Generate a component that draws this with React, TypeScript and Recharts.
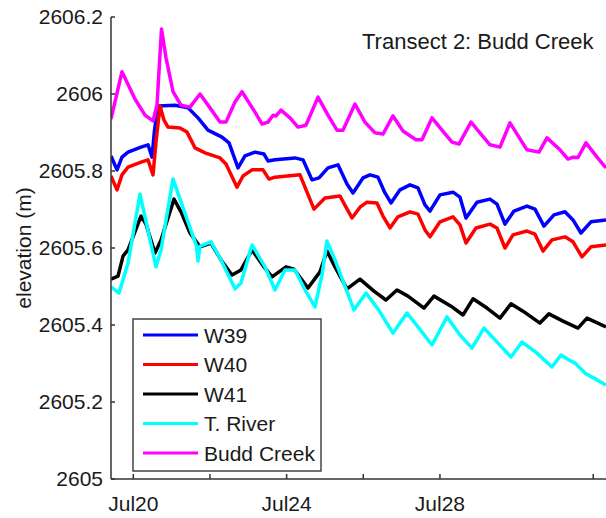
import React from 'react';
import { LineChart, Line, XAxis, YAxis, Legend } from 'recharts';

// x = days since Jul 20 00:00, y = elevation (m)
const dayTicks = [0, 2, 4, 6, 8, 12];
const dayLabels: Record<number, string> = { 0: 'Jul20', 4: 'Jul24', 8: 'Jul28' };
const elevTicks = [2605, 2605.2, 2605.4, 2605.6, 2605.8, 2606, 2606.2];

const w39: [number, number][] = [
  [-0.582, 2605.839], [-0.425, 2605.803], [-0.295, 2605.836], [-0.138, 2605.849], [0.201, 2605.862],
  [0.384, 2605.868], [0.488, 2605.836], [0.553, 2605.906], [0.644, 2605.969], [1.088, 2605.971],
  [1.427, 2605.964], [1.688, 2605.938], [1.949, 2605.906], [2.314, 2605.888], [2.497, 2605.873],
  [2.732, 2605.808], [2.914, 2605.839], [3.175, 2605.849], [3.41, 2605.844], [3.514, 2605.826],
  [3.697, 2605.829], [4.219, 2605.834], [4.427, 2605.829], [4.662, 2605.777], [4.845, 2605.782],
  [5.079, 2605.808], [5.34, 2605.816], [5.575, 2605.766], [5.731, 2605.743], [5.992, 2605.782],
  [6.175, 2605.79], [6.383, 2605.784], [6.566, 2605.743], [6.723, 2605.717], [6.958, 2605.751],
  [7.219, 2605.764], [7.427, 2605.756], [7.61, 2605.712], [7.741, 2605.696], [8.002, 2605.738],
  [8.341, 2605.745], [8.523, 2605.732], [8.68, 2605.678], [8.967, 2605.719], [9.306, 2605.727],
  [9.489, 2605.714], [9.697, 2605.662], [9.932, 2605.696], [10.271, 2605.709], [10.48, 2605.701],
  [10.715, 2605.657], [10.976, 2605.686], [11.263, 2605.694], [11.472, 2605.673], [11.68, 2605.639],
  [11.941, 2605.668], [12.333, 2605.673],
];

const w40: [number, number][] = [
  [-0.582, 2605.787], [-0.425, 2605.751], [-0.295, 2605.79], [-0.138, 2605.81], [0.201, 2605.823],
  [0.384, 2605.829], [0.514, 2605.79], [0.592, 2605.875], [0.697, 2605.969], [0.801, 2605.932],
  [0.905, 2605.914], [1.218, 2605.912], [1.401, 2605.901], [1.61, 2605.86], [1.871, 2605.847],
  [2.262, 2605.834], [2.418, 2605.818], [2.705, 2605.758], [2.862, 2605.787], [3.097, 2605.803],
  [3.384, 2605.803], [3.54, 2605.779], [3.697, 2605.784], [4.349, 2605.79], [4.532, 2605.745],
  [4.714, 2605.701], [5.001, 2605.73], [5.392, 2605.735], [5.549, 2605.706], [5.705, 2605.678],
  [5.914, 2605.706], [6.096, 2605.719], [6.357, 2605.717], [6.514, 2605.683], [6.697, 2605.652],
  [6.905, 2605.681], [7.219, 2605.694], [7.427, 2605.688], [7.61, 2605.647], [7.741, 2605.629],
  [8.002, 2605.668], [8.341, 2605.681], [8.523, 2605.66], [8.68, 2605.613], [8.941, 2605.652],
  [9.306, 2605.662], [9.489, 2605.652], [9.697, 2605.6], [9.906, 2605.634], [10.271, 2605.644],
  [10.48, 2605.636], [10.689, 2605.592], [10.923, 2605.621], [11.263, 2605.629], [11.472, 2605.616],
  [11.706, 2605.577], [11.941, 2605.603], [12.333, 2605.608],
];

const w41: [number, number][] = [
  [-0.582, 2605.519], [-0.399, 2605.527], [-0.268, 2605.579], [-0.138, 2605.595], [0.201, 2605.683],
  [0.331, 2605.662], [0.566, 2605.587], [0.723, 2605.621], [1.062, 2605.727], [1.244, 2605.694],
  [1.479, 2605.639], [1.74, 2605.603], [2.027, 2605.613], [2.288, 2605.569], [2.575, 2605.53],
  [2.81, 2605.543], [3.097, 2605.595], [3.41, 2605.551], [3.619, 2605.525], [3.984, 2605.551],
  [4.193, 2605.545], [4.558, 2605.496], [4.871, 2605.538], [5.053, 2605.592], [5.262, 2605.551],
  [5.575, 2605.494], [5.914, 2605.519], [6.279, 2605.488], [6.592, 2605.465], [6.879, 2605.491],
  [7.166, 2605.475], [7.584, 2605.444], [7.845, 2605.475], [8.289, 2605.449], [8.602, 2605.426],
  [8.863, 2605.468], [9.228, 2605.444], [9.567, 2605.418], [9.854, 2605.455], [10.167, 2605.436],
  [10.61, 2605.405], [10.845, 2605.429], [11.211, 2605.41], [11.602, 2605.392], [11.837, 2605.418],
  [12.333, 2605.395],
];

const tRiver: [number, number][] = [
  [-0.582, 2605.499], [-0.373, 2605.483], [-0.138, 2605.561], [0.175, 2605.74], [0.592, 2605.551],
  [0.723, 2605.595], [1.036, 2605.779], [1.427, 2605.668], [1.649, 2605.605], [1.688, 2605.566],
  [1.74, 2605.605], [2.027, 2605.616], [2.288, 2605.569], [2.653, 2605.494], [2.81, 2605.509],
  [3.097, 2605.608], [3.436, 2605.551], [3.697, 2605.491], [3.958, 2605.543], [4.219, 2605.543],
  [4.48, 2605.491], [4.74, 2605.447], [4.923, 2605.53], [5.053, 2605.618], [5.262, 2605.569],
  [5.757, 2605.439], [6.07, 2605.483], [6.383, 2605.442], [6.775, 2605.379], [7.14, 2605.431],
  [7.427, 2605.395], [7.793, 2605.348], [8.185, 2605.421], [8.523, 2605.374], [8.836, 2605.34],
  [9.15, 2605.392], [9.515, 2605.353], [9.854, 2605.317], [10.14, 2605.356], [10.532, 2605.327],
  [10.923, 2605.291], [11.158, 2605.322], [11.367, 2605.309], [11.524, 2605.301], [11.811, 2605.273],
  [12.02, 2605.262], [12.333, 2605.244],
];

const buddCreek: [number, number][] = [
  [-0.582, 2605.935], [-0.295, 2606.058], [0.044, 2605.987], [0.305, 2605.945], [0.514, 2605.93],
  [0.618, 2605.971], [0.736, 2606.169], [0.853, 2606.094], [1.036, 2606.006], [1.244, 2605.971],
  [1.479, 2605.966], [1.74, 2606.0], [2.001, 2605.964], [2.262, 2605.927], [2.418, 2605.927],
  [2.653, 2605.979], [2.836, 2606.006], [3.175, 2605.953], [3.358, 2605.922], [3.514, 2605.927],
  [3.645, 2605.945], [3.723, 2605.943], [3.853, 2605.958], [4.088, 2605.938], [4.297, 2605.914],
  [4.506, 2605.919], [4.819, 2605.992], [5.079, 2605.945], [5.314, 2605.906], [5.47, 2605.906],
  [5.783, 2605.974], [6.044, 2605.927], [6.305, 2605.899], [6.514, 2605.896], [6.775, 2605.943],
  [7.036, 2605.904], [7.375, 2605.881], [7.532, 2605.881], [7.793, 2605.938], [8.054, 2605.906],
  [8.315, 2605.875], [8.497, 2605.87], [8.81, 2605.927], [9.306, 2605.868], [9.567, 2605.862],
  [9.828, 2605.925], [10.271, 2605.855], [10.584, 2605.849], [10.793, 2605.886], [11.132, 2605.855],
  [11.341, 2605.831], [11.472, 2605.836], [11.602, 2605.835], [11.811, 2605.873], [12.098, 2605.836],
  [12.333, 2605.808],
];

const seriesNames = ['W39', 'W40', 'W41', 'T. River', 'Budd Creek'];
const seriesValues = [w39, w40, w41, tRiver, buddCreek];

const COLORS = ['#0000ff', '#ff0000', '#000000', '#00ffff', '#ff00ff'];
const FONT = '"Liberation Sans", Arial, Helvetica, sans-serif';
const AXIS = '#333333';
const X_DOMAIN: [number, number] = [-0.582, 12.333];

const series = seriesNames.map((name, i) => ({
  name,
  color: COLORS[i],
  data: seriesValues[i].map(([day, elev]) => ({ day, elev })),
}));

const fmtElev = (v: number) => String(Number(v.toFixed(1)));

const LegendBox = () => (
  <svg width={190} height={154} style={{ display: 'block' }}>
    <rect x={1} y={1} width={188} height={152} fill="#ffffff" stroke="#444444" strokeWidth={1.5} />
    {series.map((s, i) => {
      const cy = 17 + i * 29.5;
      return (
        <g key={s.name}>
          <line x1={11} x2={66} y1={cy} y2={cy} stroke={s.color} strokeWidth={3} />
          <text x={72} y={cy + 7.5} fontSize={21} fontFamily={FONT} fill="#1a1a1a">
            {s.name}
          </text>
        </g>
      );
    })}
  </svg>
);

export default function App() {
  return (
    <div style={{ position: 'absolute', left: 0, top: 0, width: 606, height: 518, background: '#fff' }}>
      <LineChart width={606} height={518} margin={{ top: 17, right: 0, bottom: 0, left: 0 }}>
        <XAxis
          dataKey="day"
          type="number"
          domain={X_DOMAIN}
          allowDataOverflow
          ticks={dayTicks}
          tickFormatter={(v: number) => dayLabels[v] ?? ''}
          height={39}
          tickSize={-5}
          tickMargin={22}
          interval={0}
          axisLine={{ stroke: AXIS, strokeWidth: 1.5 }}
          tickLine={{ stroke: AXIS, strokeWidth: 1.5 }}
          tick={{ fontSize: 21, fill: '#1a1a1a', fontFamily: FONT }}
        />
        <XAxis
          xAxisId="top"
          orientation="top"
          dataKey="day"
          type="number"
          domain={X_DOMAIN}
          allowDataOverflow
          ticks={dayTicks}
          tickFormatter={() => ''}
          height={0}
          tickSize={-5}
          interval={0}
          axisLine={{ stroke: AXIS, strokeWidth: 1.5 }}
          tickLine={{ stroke: AXIS, strokeWidth: 1.5 }}
        />
        <YAxis
          type="number"
          domain={[2605, 2606.2]}
          allowDataOverflow
          ticks={elevTicks}
          tickFormatter={fmtElev}
          width={111}
          tickSize={-4}
          tickMargin={12}
          interval={0}
          axisLine={{ stroke: AXIS, strokeWidth: 1.5 }}
          tickLine={{ stroke: AXIS, strokeWidth: 1.5 }}
          tick={{ fontSize: 21, fill: '#1a1a1a', fontFamily: FONT }}
          label={{
            value: 'elevation (m)',
            angle: -90,
            position: 'insideLeft',
            offset: 24,
            style: { textAnchor: 'middle', fontSize: 21, fill: '#1a1a1a', fontFamily: FONT },
          }}
        />
        <Legend
          layout="vertical"
          align="center"
          verticalAlign="middle"
          wrapperStyle={{ left: 132, top: 318, width: 190, height: 154 }}
          content={() => <LegendBox />}
        />
        {series.map((s) => (
          <Line
            key={s.name}
            data={s.data}
            dataKey="elev"
            name={s.name}
            type="linear"
            stroke={s.color}
            strokeWidth={3.5}
            strokeLinejoin="round"
            dot={false}
            activeDot={false}
            isAnimationActive={false}
          />
        ))}
      </LineChart>
      <div
        style={{
          position: 'absolute',
          left: 362,
          top: 31,
          fontFamily: FONT,
          fontSize: 22,
          lineHeight: '22px',
          color: '#1a1a1a',
          whiteSpace: 'nowrap',
        }}
      >
        Transect 2: Budd Creek
      </div>
    </div>
  );
}
